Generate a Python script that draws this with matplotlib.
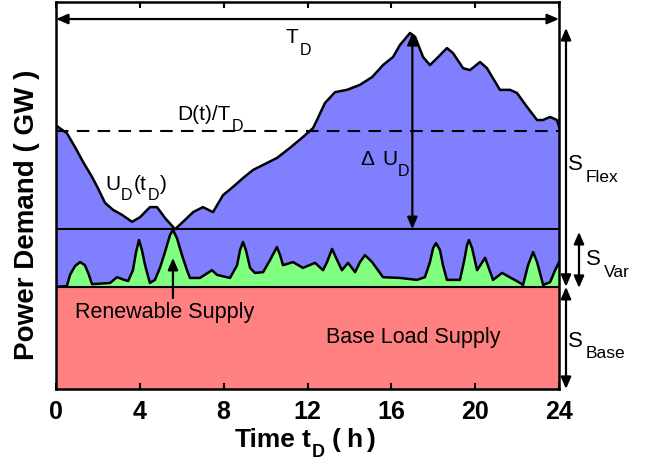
import numpy as np
import matplotlib
matplotlib.use('Agg')
import matplotlib.pyplot as plt
from matplotlib.transforms import IdentityTransform

plt.rcParams['font.family'] = ['Liberation Sans', 'DejaVu Sans']

# demand curve U_D(t_D), hours / arbitrary GW units
t_dem = [0.00, 0.10, 0.52, 0.91, 1.29, 1.72, 2.00, 2.34, 2.72, 3.15, 3.63, 4.01,
         4.48, 4.82, 5.20, 5.68, 6.06, 6.54, 7.01, 7.49, 7.97, 8.44, 8.92, 9.40,
         9.88, 10.54, 11.16, 11.78, 12.26, 12.45, 12.83, 13.31, 13.88, 14.50,
         15.08, 15.60, 16.08, 16.41, 16.89, 17.13, 17.51, 17.84, 18.18, 18.65,
         18.94, 19.42, 19.75, 20.23, 20.56, 21.18, 21.66, 21.99, 22.47, 22.95,
         23.23, 23.57, 23.90, 24.00]
u_dem = [68.2, 67.7, 66.1, 62.5, 58.7, 54.8, 51.9, 48.1, 46.3, 45.0, 43.2, 44.4,
         47.0, 47.0, 44.2, 41.3, 43.2, 45.7, 47.0, 45.7, 50.1, 52.2, 54.5, 56.6,
         57.9, 59.7, 62.3, 65.1, 67.4, 69.5, 73.9, 76.7, 77.3, 78.6,
         80.6, 83.7, 85.8, 88.9, 92.0, 91.0, 85.8, 83.7, 85.5, 88.1,
         86.8, 82.9, 82.4, 84.5, 82.9, 77.3, 77.3, 76.5, 72.9, 69.5,
         69.5, 70.3, 69.5, 67.7]

# renewable supply stacked on the base load
t_ren = [0.00, 0.52, 0.67, 0.91, 1.15, 1.38, 1.57, 1.72, 2.58, 2.91, 3.20, 3.44,
         3.67, 3.82, 3.96, 4.10, 4.25, 4.48, 4.72, 4.96, 5.20, 5.44, 5.58, 5.77,
         6.01, 6.25, 6.39, 6.87, 7.44, 7.68, 8.30, 8.64, 8.78, 8.92, 9.06, 9.26,
         9.49, 9.88, 10.21, 10.54, 10.69, 10.83, 11.31, 11.78, 12.36, 12.74, 12.93,
         13.17, 13.36, 13.64, 13.93, 14.27, 14.50, 14.74, 15.08, 15.60, 16.41,
         17.22, 17.60, 17.84, 17.99, 18.13, 18.32, 18.46, 18.65, 19.27, 19.46,
         19.61, 19.70, 19.85, 20.09, 20.47, 20.85, 21.28, 22.14, 22.28, 22.52,
         22.76, 22.95, 23.24, 23.57, 23.81, 24.00]
r_ren = [26.4, 26.6, 29.5, 31.8, 32.8, 32.0, 29.5, 27.1, 27.4, 28.9, 28.3, 27.9,
         30.7, 35.4, 38.5, 35.9, 32.0, 27.4, 28.2, 31.3, 35.4, 39.8, 41.1, 39.0,
         34.6, 30.7, 28.7, 28.7, 30.7, 29.5, 28.7, 32.0, 35.9, 38.0, 35.9, 31.3,
         30.0, 30.2, 33.3, 36.7, 34.6, 32.0, 32.8, 31.3, 32.6, 30.7, 32.8,
         36.2, 33.9, 30.7, 32.6, 30.2, 32.8, 34.6, 32.8, 28.9, 28.7,
         28.2, 28.9, 32.8, 36.4, 37.7, 35.9, 32.0, 28.2, 28.2, 32.8,
         37.2, 38.5, 36.4, 30.7, 33.9, 28.2, 30.0, 27.4, 26.9, 32.0,
         35.4, 32.8, 26.9, 27.6, 30.7, 32.8]

base_level = 26.4
mean_level = 66.7
min_level = 41.3
peak_t = 17.0
peak_level = 92.0
td_level = 95.6
x_ticks = [0, 4, 8, 12, 16, 20, 24]

blue = '#8080ff'
green = '#80ff80'
red = '#ff8080'

fig = plt.figure(figsize=(6.45, 4.66), dpi=100)
ax = fig.add_axes([0.0868, 0.1652, 0.7800, 0.8305])

ax.fill_between([0, 24], 0, base_level, color=red, lw=0)
ax.fill_between(t_dem, base_level, u_dem, color=blue, lw=0)
ax.fill_between(t_ren, base_level, r_ren, color=green, lw=0)
ax.plot(t_ren, r_ren, color='k', lw=1.8, solid_joinstyle='round')
ax.plot(t_dem, u_dem, color='k', lw=1.8, solid_joinstyle='round')
ax.plot([0, 24], [base_level, base_level], color='k', lw=1.5)
ax.plot([0, 24], [min_level, min_level], color='k', lw=1.5)
ax.plot([0, 24], [mean_level, mean_level], color='k', lw=1.5, dashes=(6, 4))

ax.set_xlim(0, 24)
ax.set_ylim(0, 100)
ax.set_xticks(x_ticks)
ax.set_xticklabels([str(v) for v in x_ticks], fontweight='bold', fontsize=18)
ax.set_yticks([])
ax.tick_params(axis='x', direction='in', length=4, width=1.5, top=True, pad=8)
for s in ax.spines.values():
    s.set_linewidth(1.8)

ax.set_ylabel('Power Demand ( GW )', fontsize=20, fontweight='bold')
ax.yaxis.set_label_coords(-0.032, 0.45)


def arrow(x0, y0, x1, y1, style='<|-|>'):
    ax.annotate('', xy=(x1, y1), xytext=(x0, y0),
                arrowprops=dict(arrowstyle=style + ',head_length=0.7,head_width=0.3',
                                color='k', lw=1.6, shrinkA=0, shrinkB=0),
                annotation_clip=False)


arrow(0, td_level, 24, td_level)
arrow(peak_t, min_level, peak_t, peak_level)
arrow(5.58, 23.5, 5.58, 33.9, style='-|>')
arrow(24.33, base_level, 24.33, 93.3)
arrow(24.33, base_level, 24.33, 0)
arrow(24.95, 26.1, 24.95, 40.6)

renderer = fig.canvas.get_renderer()


def rich(x, y, parts, size, sub_size, drop, weight='normal'):
    # parts: strings (normal), ('sub', text) for subscripts, numbers for gaps in px
    px, py = ax.transData.transform((x, y))
    for p in parts:
        if isinstance(p, (int, float)):
            px += p
            continue
        if isinstance(p, tuple):
            txt, fs_, yy = p[1], sub_size, py - drop
        else:
            txt, fs_, yy = p, size, py
        t = fig.text(px, yy, txt, fontsize=fs_, fontweight=weight, ha='left',
                     va='baseline', transform=IdentityTransform())
        px += t.get_window_extent(renderer).width + 1


fs = 15
rich(10.97, 89.4, ['T', ('sub', 'D')], fs, 11.5, 12)
rich(5.77, 69.5, ['D(t)/T', ('sub', 'D')], fs, 11.5, 11)
rich(2.34, 51.4, ['U', ('sub', 'D'), '(t', ('sub', 'D'), ')'], fs, 11.5, 10)
rich(14.50, 57.9, ['Δ', 7, 'U', ('sub', 'D')], fs, 11.5, 11)
rich(24.43, 56.6, ['S', 2, ('sub', 'Flex')], 16, 12.5, 12)
rich(25.29, 32.0, ['S', 2, ('sub', 'Var')], 16, 12.5, 12)
rich(24.43, 10.9, ['S', 2, ('sub', 'Base')], 16, 12.5, 11)
rich(8.54, -15.0, ['Time', 5, 't', ('sub', 'D'), 6, '(', 4, 'h', 4, ')'], 19, 13, 10,
     weight='bold')

ax.text(5.2, 19.9, 'Renewable Supply', fontsize=15.5, ha='center', va='center')
ax.text(17.03, 13.4, 'Base Load Supply', fontsize=15.5, ha='center', va='center')

fig.savefig('out.png', dpi=100)
